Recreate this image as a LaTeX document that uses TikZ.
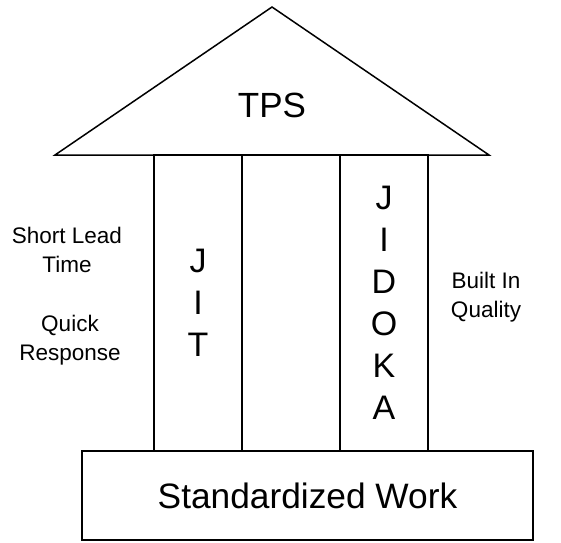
\documentclass[tikz,border=0pt]{standalone}
\usepackage{fontspec}
\setmainfont{Liberation Sans}
\usetikzlibrary{positioning}

\begin{document}
\begin{tikzpicture}[
    x=1pt, y=1pt,
    every node/.style={align=center, inner sep=0pt},
    part/.style={draw, line width=1.5pt, outer sep=0pt},
    pillar/.style={part, anchor=south west, minimum height=296pt, font=\fontsize{34}{42}\selectfont},
    side/.style={font=\fontsize{22.5}{29}\selectfont}
]
    \useasboundingbox (0,0) rectangle (561,542);

    % Foundation
    \node[part, minimum width=451pt, minimum height=89pt, font=\fontsize{35.3}{40}\selectfont] (base) at (307.5,46.5) {Standardized Work};

    % Pillars
    \node[pillar, minimum width=88pt] (jit) at (154,91) {J\\I\\T};
    \node[pillar, minimum width=98pt] (mid) at (jit.south east) {};
    \node[pillar, minimum width=88pt] (jidoka) at (mid.south east) {J\\I\\D\\O\\K\\A};

    % Roof
    \coordinate (eaveL) at (55,387);
    \coordinate (eaveR) at (489,387);
    \coordinate (apex) at (272,535);
    \draw[part, line join=miter] (eaveL) -- (apex) -- (eaveR) -- cycle;
    \node[font=\fontsize{35}{42}\selectfont] (tps) at (272,437) {TPS};

    % Side notes
    \node[side] (lead) at (67,292) {Short Lead\\Time};
    \node[side] (quick) at (70,202) {Quick\\Response};
    \node[side] (quality) at (486,245) {Built In\\Quality};
\end{tikzpicture}
\end{document}
